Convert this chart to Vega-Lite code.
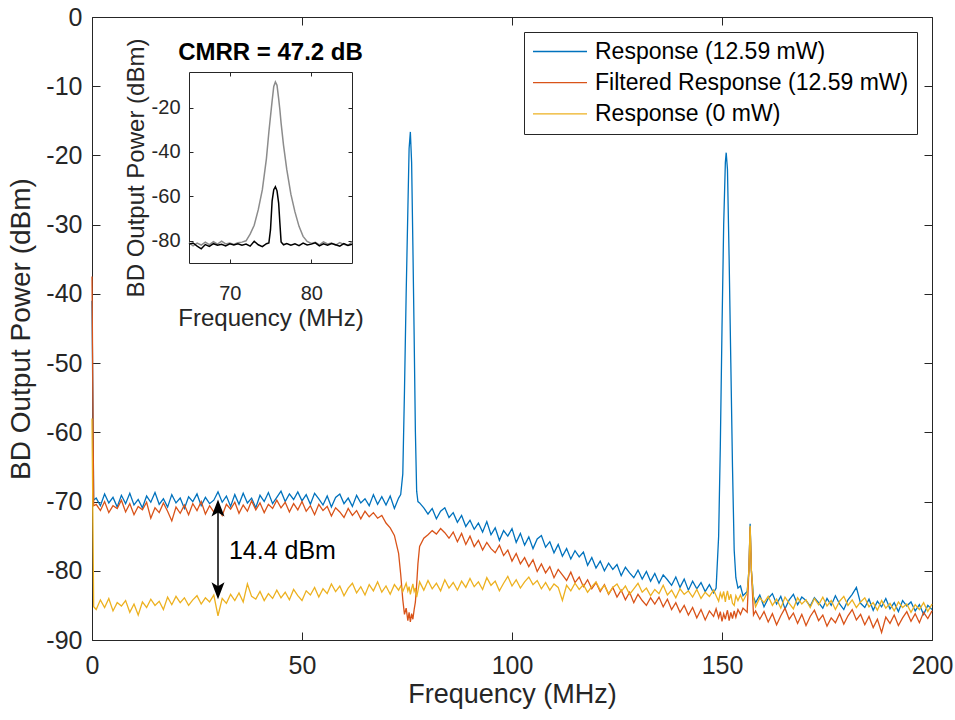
{
"$schema": "https://vega.github.io/schema/vega-lite/v6.json",
"width": 840, "height": 623,
"autosize": {"type": "none"},
"padding": {"left": 92, "top": 17, "right": 23, "bottom": 80},
"background": "white",
"config": {
  "view": {"stroke": null},
  "font": "Liberation Sans",
  "axis": {"labelFont": "Liberation Sans", "titleFont": "Liberation Sans", "domainColor": "#262626", "tickColor": "#262626", "labelColor": "#262626", "titleColor": "#262626", "grid": false, "titleFontWeight": "normal", "domainWidth": 1, "tickWidth": 1, "labelFlush": false, "labelOverlap": false},
  "text": {"font": "Liberation Sans"}
},
"datasets": {
"main": [
{"f":0,"a":-41,"b":-37.5,"c":-58},
{"f":0.4,"a":-69.8,"b":-70.6,"c":-85.2},
{"f":1,"a":-69.5,"b":-70.4,"c":-85.6},
{"f":2,"a":-70.6,"b":-71.3,"c":-84.2},
{"f":3,"a":-68.9,"b":-70.0,"c":-85.3},
{"f":4,"a":-70.2,"b":-71.6,"c":-84.0},
{"f":5,"a":-69.4,"b":-70.6,"c":-85.8},
{"f":6,"a":-70.8,"b":-71.0,"c":-84.6},
{"f":7,"a":-69.1,"b":-69.8,"c":-85.1},
{"f":8,"a":-70.3,"b":-71.5,"c":-84.3},
{"f":9,"a":-68.8,"b":-70.3,"c":-86.0},
{"f":10,"a":-70.5,"b":-71.9,"c":-84.8},
{"f":11,"a":-69.7,"b":-70.7,"c":-86.4},
{"f":12,"a":-70.9,"b":-71.2,"c":-84.5},
{"f":13,"a":-69.2,"b":-70.1,"c":-85.3},
{"f":14,"a":-70.1,"b":-72.4,"c":-84.1},
{"f":15,"a":-68.7,"b":-70.9,"c":-85.0},
{"f":16,"a":-70.4,"b":-71.6,"c":-84.4},
{"f":17,"a":-69.6,"b":-70.2,"c":-85.6},
{"f":18,"a":-70.8,"b":-71.4,"c":-83.8},
{"f":19,"a":-69.0,"b":-72.8,"c":-84.9},
{"f":20,"a":-70.2,"b":-70.8,"c":-83.7},
{"f":21,"a":-69.5,"b":-71.7,"c":-84.6},
{"f":22,"a":-71.0,"b":-70.5,"c":-83.9},
{"f":23,"a":-69.3,"b":-71.9,"c":-85.0},
{"f":24,"a":-70.0,"b":-70.3,"c":-84.2},
{"f":25,"a":-68.9,"b":-71.3,"c":-83.6},
{"f":26,"a":-70.6,"b":-70.0,"c":-84.8},
{"f":27,"a":-69.4,"b":-71.8,"c":-83.9},
{"f":28,"a":-70.3,"b":-70.6,"c":-84.5},
{"f":29,"a":-69.8,"b":-71.5,"c":-83.5},
{"f":30,"a":-68.6,"b":-70.9,"c":-86.5},
{"f":31,"a":-70.1,"b":-72.0,"c":-84.0},
{"f":32,"a":-69.2,"b":-70.4,"c":-84.7},
{"f":33,"a":-70.7,"b":-71.1,"c":-83.4},
{"f":34,"a":-69.0,"b":-70.1,"c":-84.3},
{"f":35,"a":-70.4,"b":-71.7,"c":-83.2},
{"f":36,"a":-68.8,"b":-70.5,"c":-84.5},
{"f":37,"a":-70.2,"b":-71.4,"c":-81.9},
{"f":38,"a":-69.5,"b":-69.9,"c":-83.7},
{"f":39,"a":-70.9,"b":-71.2,"c":-84.1},
{"f":40,"a":-69.1,"b":-70.2,"c":-83.0},
{"f":41,"a":-70.0,"b":-71.6,"c":-84.3},
{"f":42,"a":-68.7,"b":-70.4,"c":-83.3},
{"f":43,"a":-70.3,"b":-71.0,"c":-84.0},
{"f":44,"a":-69.4,"b":-69.8,"c":-82.8},
{"f":45,"a":-68.5,"b":-70.9,"c":-83.9},
{"f":46,"a":-70.0,"b":-70.1,"c":-83.1},
{"f":47,"a":-68.9,"b":-71.5,"c":-84.2},
{"f":48,"a":-69.7,"b":-70.3,"c":-82.7},
{"f":49,"a":-68.6,"b":-71.2,"c":-83.6},
{"f":50,"a":-69.9,"b":-70.0,"c":-84.3},
{"f":51,"a":-69.0,"b":-71.4,"c":-82.9},
{"f":52,"a":-70.4,"b":-70.6,"c":-83.5},
{"f":53,"a":-68.8,"b":-71.9,"c":-82.4},
{"f":54,"a":-69.6,"b":-70.4,"c":-83.8},
{"f":55,"a":-70.5,"b":-71.3,"c":-82.6},
{"f":56,"a":-69.2,"b":-70.7,"c":-83.3},
{"f":57,"a":-70.8,"b":-72.1,"c":-81.9},
{"f":58,"a":-69.4,"b":-70.9,"c":-83.0},
{"f":59,"a":-68.9,"b":-71.5,"c":-82.2},
{"f":60,"a":-70.3,"b":-72.3,"c":-83.6},
{"f":61,"a":-69.5,"b":-71.0,"c":-82.5},
{"f":62,"a":-70.7,"b":-72.0,"c":-81.8},
{"f":63,"a":-69.1,"b":-71.3,"c":-83.2},
{"f":64,"a":-70.2,"b":-72.5,"c":-82.3},
{"f":65,"a":-69.6,"b":-71.4,"c":-83.5},
{"f":66,"a":-70.6,"b":-72.2,"c":-82.0},
{"f":67,"a":-69.0,"b":-71.6,"c":-82.9},
{"f":68,"a":-70.4,"b":-72.4,"c":-81.6},
{"f":69,"a":-69.3,"b":-72.0,"c":-83.1},
{"f":70,"a":-70.5,"b":-73.1,"c":-82.2},
{"f":71,"a":-69.2,"b":-73.8,"c":-83.4},
{"f":72,"a":-71.0,"b":-74.9,"c":-82.0},
{"f":73,"a":-69.5,"b":-77.5,"c":-82.8},
{"f":73.5,"a":-69.0,"b":-80.5,"c":-82.2},
{"f":74.0,"a":-66,"b":-84.2,"c":-83.0},
{"f":74.4,"a":-54,"b":-86.3,"c":-82.4},
{"f":74.8,"a":-40,"b":-85.4,"c":-81.8},
{"f":75.2,"a":-28,"b":-87.2,"c":-82.9},
{"f":75.5,"a":-19,"b":-86.0,"c":-82.3},
{"f":75.8,"a":-16.6,"b":-87.4,"c":-83.4},
{"f":76.1,"a":-21,"b":-86.2,"c":-82.6},
{"f":76.4,"a":-33,"b":-87.0,"c":-81.9},
{"f":76.7,"a":-46,"b":-85.6,"c":-83.0},
{"f":77.0,"a":-60,"b":-84.5,"c":-82.5},
{"f":77.3,"a":-68.5,"b":-82.0,"c":-83.8},
{"f":77.6,"a":-70.0,"b":-79.0,"c":-82.9},
{"f":78,"a":-70.2,"b":-76.5,"c":-81.6},
{"f":79,"a":-70.9,"b":-75.3,"c":-82.8},
{"f":80,"a":-71.8,"b":-74.8,"c":-81.4},
{"f":81,"a":-71.0,"b":-74.2,"c":-82.6},
{"f":82,"a":-72.5,"b":-74.7,"c":-81.8},
{"f":83,"a":-71.4,"b":-73.9,"c":-82.9},
{"f":84,"a":-70.9,"b":-74.5,"c":-81.3},
{"f":85,"a":-72.3,"b":-75.3,"c":-82.5},
{"f":86,"a":-71.6,"b":-74.4,"c":-81.7},
{"f":87,"a":-73.0,"b":-75.8,"c":-82.8},
{"f":88,"a":-72.0,"b":-74.6,"c":-81.5},
{"f":89,"a":-73.6,"b":-76.2,"c":-82.4},
{"f":90,"a":-72.7,"b":-75.0,"c":-81.1},
{"f":91,"a":-74.0,"b":-76.5,"c":-82.3},
{"f":92,"a":-73.1,"b":-75.6,"c":-81.6},
{"f":93,"a":-74.4,"b":-77.0,"c":-82.7},
{"f":94,"a":-72.9,"b":-75.9,"c":-81.0},
{"f":95,"a":-74.8,"b":-76.8,"c":-82.1},
{"f":96,"a":-73.8,"b":-77.4,"c":-81.5},
{"f":97,"a":-75.6,"b":-76.3,"c":-82.9},
{"f":98,"a":-74.2,"b":-77.8,"c":-81.8},
{"f":99,"a":-75.0,"b":-77.0,"c":-80.8},
{"f":100,"a":-73.9,"b":-78.6,"c":-82.2},
{"f":101,"a":-75.9,"b":-77.5,"c":-81.3},
{"f":102,"a":-74.6,"b":-79.0,"c":-82.5},
{"f":103,"a":-76.3,"b":-78.1,"c":-81.6},
{"f":104,"a":-75.1,"b":-79.4,"c":-80.9},
{"f":105,"a":-76.8,"b":-78.4,"c":-82.0},
{"f":106,"a":-75.4,"b":-80.1,"c":-81.4},
{"f":107,"a":-74.9,"b":-79.0,"c":-82.6},
{"f":108,"a":-76.6,"b":-80.3,"c":-81.7},
{"f":109,"a":-75.8,"b":-79.4,"c":-82.8},
{"f":110,"a":-77.4,"b":-81.0,"c":-81.9},
{"f":111,"a":-76.2,"b":-79.8,"c":-82.4},
{"f":112,"a":-77.9,"b":-80.6,"c":-84.3},
{"f":113,"a":-76.8,"b":-81.4,"c":-82.1},
{"f":114,"a":-78.3,"b":-80.2,"c":-82.9},
{"f":115,"a":-77.1,"b":-81.7,"c":-81.8},
{"f":116,"a":-78.0,"b":-80.9,"c":-82.7},
{"f":117,"a":-77.3,"b":-82.3,"c":-82.0},
{"f":118,"a":-79.2,"b":-81.3,"c":-83.1},
{"f":119,"a":-78.1,"b":-82.6,"c":-82.3},
{"f":120,"a":-79.6,"b":-81.7,"c":-81.6},
{"f":121,"a":-78.6,"b":-83.0,"c":-82.8},
{"f":122,"a":-80.0,"b":-82.0,"c":-82.1},
{"f":123,"a":-78.9,"b":-83.4,"c":-83.3},
{"f":124,"a":-79.8,"b":-82.4,"c":-82.4},
{"f":125,"a":-79.1,"b":-83.8,"c":-81.9},
{"f":126,"a":-80.7,"b":-82.8,"c":-83.0},
{"f":127,"a":-79.5,"b":-84.2,"c":-82.2},
{"f":128,"a":-80.3,"b":-83.1,"c":-83.4},
{"f":129,"a":-81.0,"b":-84.6,"c":-82.6},
{"f":130,"a":-79.9,"b":-83.4,"c":-81.8},
{"f":131,"a":-81.2,"b":-84.3,"c":-83.1},
{"f":132,"a":-80.1,"b":-85.0,"c":-82.5},
{"f":133,"a":-81.5,"b":-83.9,"c":-83.6},
{"f":134,"a":-80.4,"b":-84.8,"c":-82.7},
{"f":135,"a":-81.8,"b":-83.8,"c":-83.3},
{"f":136,"a":-80.6,"b":-85.2,"c":-82.1},
{"f":137,"a":-81.3,"b":-84.1,"c":-83.5},
{"f":138,"a":-82.1,"b":-85.6,"c":-82.8},
{"f":139,"a":-80.9,"b":-84.6,"c":-83.9},
{"f":140,"a":-82.4,"b":-86.0,"c":-82.6},
{"f":141,"a":-81.2,"b":-85.0,"c":-83.4},
{"f":142,"a":-82.8,"b":-86.4,"c":-82.9},
{"f":143,"a":-81.5,"b":-85.3,"c":-83.8},
{"f":144,"a":-82.6,"b":-86.8,"c":-82.7},
{"f":145,"a":-81.7,"b":-85.6,"c":-84.0},
{"f":146,"a":-83.0,"b":-87.1,"c":-83.1},
{"f":147,"a":-82.0,"b":-85.8,"c":-83.7},
{"f":148,"a":-83.2,"b":-86.6,"c":-82.8},
{"f":148.6,"a":-82.5,"b":-85.5,"c":-83.6},
{"f":149.2,"a":-75,"b":-86.8,"c":-84.4},
{"f":149.6,"a":-62,"b":-85.9,"c":-83.2},
{"f":150.0,"a":-45,"b":-87.3,"c":-83.9},
{"f":150.4,"a":-30,"b":-86.2,"c":-83.0},
{"f":150.8,"a":-21,"b":-87.0,"c":-84.5},
{"f":151.0,"a":-19.6,"b":-86.4,"c":-83.7},
{"f":151.3,"a":-22,"b":-85.7,"c":-82.9},
{"f":151.7,"a":-35,"b":-87.2,"c":-84.2},
{"f":152.1,"a":-50,"b":-86.0,"c":-83.4},
{"f":152.5,"a":-65,"b":-86.9,"c":-84.7},
{"f":152.9,"a":-77,"b":-85.8,"c":-85.0},
{"f":153.3,"a":-81,"b":-86.7,"c":-83.6},
{"f":153.8,"a":-82.5,"b":-85.6,"c":-84.3},
{"f":154.4,"a":-82.2,"b":-86.3,"c":-83.5},
{"f":155,"a":-83.6,"b":-85.4,"c":-84.4},
{"f":156,"a":-83.0,"b":-86.0,"c":-83.2},
{"f":156.4,"a":-80,"b":-80,"c":-80},
{"f":156.7,"a":-73.2,"b":-73.7,"c":-73.5},
{"f":157.0,"a":-80,"b":-80,"c":-80},
{"f":157.5,"a":-83.8,"b":-86.4,"c":-84.0},
{"f":158,"a":-84.6,"b":-85.8,"c":-85.2},
{"f":159,"a":-83.5,"b":-87.0,"c":-83.9},
{"f":160,"a":-85.2,"b":-85.9,"c":-84.6},
{"f":161,"a":-84.0,"b":-87.4,"c":-83.7},
{"f":162,"a":-83.3,"b":-86.2,"c":-85.0},
{"f":163,"a":-84.8,"b":-87.8,"c":-84.1},
{"f":164,"a":-83.7,"b":-86.5,"c":-85.4},
{"f":165,"a":-85.5,"b":-85.4,"c":-83.8},
{"f":166,"a":-84.2,"b":-87.0,"c":-84.7},
{"f":167,"a":-83.4,"b":-86.1,"c":-85.5},
{"f":168,"a":-84.9,"b":-87.6,"c":-83.9},
{"f":169,"a":-83.8,"b":-86.3,"c":-84.8},
{"f":170,"a":-84.3,"b":-87.9,"c":-84.2},
{"f":171,"a":-85.1,"b":-86.6,"c":-85.3},
{"f":172,"a":-83.9,"b":-85.7,"c":-84.0},
{"f":173,"a":-84.6,"b":-87.2,"c":-84.9},
{"f":174,"a":-85.4,"b":-86.4,"c":-83.8},
{"f":175,"a":-84.0,"b":-88.0,"c":-85.1},
{"f":176,"a":-85.0,"b":-86.8,"c":-84.3},
{"f":177,"a":-83.6,"b":-87.5,"c":-85.6},
{"f":178,"a":-84.8,"b":-86.2,"c":-84.4},
{"f":179,"a":-85.6,"b":-87.7,"c":-83.7},
{"f":180,"a":-84.2,"b":-86.5,"c":-85.0},
{"f":181,"a":-83.4,"b":-85.6,"c":-84.2},
{"f":182,"a":-82.4,"b":-87.1,"c":-85.3},
{"f":183,"a":-84.7,"b":-86.3,"c":-84.5},
{"f":184,"a":-85.3,"b":-87.8,"c":-83.9},
{"f":185,"a":-84.1,"b":-86.6,"c":-85.2},
{"f":186,"a":-85.7,"b":-88.2,"c":-84.6},
{"f":187,"a":-84.4,"b":-87.0,"c":-85.7},
{"f":188,"a":-85.2,"b":-88.9,"c":-84.3},
{"f":189,"a":-84.0,"b":-86.7,"c":-85.4},
{"f":190,"a":-85.5,"b":-87.6,"c":-84.7},
{"f":191,"a":-84.6,"b":-86.4,"c":-85.8},
{"f":192,"a":-85.9,"b":-87.9,"c":-84.5},
{"f":193,"a":-84.3,"b":-86.8,"c":-85.3},
{"f":194,"a":-85.1,"b":-85.9,"c":-84.8},
{"f":195,"a":-84.5,"b":-87.3,"c":-86.0},
{"f":196,"a":-85.8,"b":-86.2,"c":-84.9},
{"f":197,"a":-84.9,"b":-87.5,"c":-85.6},
{"f":198,"a":-86.3,"b":-86.0,"c":-84.6},
{"f":199,"a":-85.0,"b":-86.9,"c":-85.9},
{"f":200,"a":-85.6,"b":-85.8,"c":-84.8}
],
"inset": [
{"f":65,"g":-80.8,"k":-81.5},
{"f":65.5,"g":-82.3,"k":-81.0},
{"f":66,"g":-81.0,"k":-82.4},
{"f":66.5,"g":-81.9,"k":-83.6},
{"f":67,"g":-80.6,"k":-81.7},
{"f":67.5,"g":-81.7,"k":-82.5},
{"f":68,"g":-80.4,"k":-81.3},
{"f":68.5,"g":-81.5,"k":-82.0},
{"f":69,"g":-80.2,"k":-81.6},
{"f":69.5,"g":-81.4,"k":-82.3},
{"f":70,"g":-81.0,"k":-81.4},
{"f":70.5,"g":-81.6,"k":-81.9},
{"f":71,"g":-80.9,"k":-81.3},
{"f":71.5,"g":-80.6,"k":-82.0},
{"f":72,"g":-80.0,"k":-81.5},
{"f":72.5,"g":-77.0,"k":-82.4},
{"f":73,"g":-73.0,"k":-80.2},
{"f":73.5,"g":-66.0,"k":-81.8},
{"f":74,"g":-57.0,"k":-82.6},
{"f":74.5,"g":-43.0,"k":-81.3},
{"f":74.8,"g":-31.0,"k":-81.0},
{"f":75.0,"g":-24.0,"k":-75.0},
{"f":75.2,"g":-17.0,"k":-62.0},
{"f":75.4,"g":-10.5,"k":-57.0},
{"f":75.6,"g":-8.5,"k":-55.7},
{"f":75.8,"g":-10.0,"k":-57.5},
{"f":76.0,"g":-16.0,"k":-63.0},
{"f":76.15,"g":-21.0,"k":-72.0},
{"f":76.3,"g":-27.0,"k":-80.5},
{"f":76.6,"g":-37.0,"k":-81.8},
{"f":77,"g":-48.0,"k":-81.2},
{"f":77.5,"g":-59.0,"k":-82.0},
{"f":78,"g":-67.0,"k":-81.4},
{"f":78.5,"g":-73.5,"k":-82.2},
{"f":79,"g":-78.0,"k":-81.0},
{"f":79.5,"g":-80.3,"k":-81.9},
{"f":80,"g":-81.2,"k":-81.5},
{"f":80.5,"g":-80.7,"k":-80.9},
{"f":81,"g":-81.8,"k":-82.3},
{"f":81.5,"g":-80.5,"k":-81.4},
{"f":82,"g":-81.4,"k":-82.0},
{"f":82.5,"g":-81.0,"k":-81.2},
{"f":83,"g":-82.0,"k":-81.8},
{"f":83.5,"g":-80.8,"k":-82.4},
{"f":84,"g":-81.6,"k":-81.3},
{"f":84.5,"g":-82.1,"k":-82.1},
{"f":85,"g":-80.5,"k":-81.6}
]
},
"layer": [
{
  "data": {"name": "main"},
  "resolve": {"axis": {"x": "independent", "y": "independent"}},
  "layer": [
    {
      "transform": [{"fold": ["a", "b", "c"], "as": ["s", "p"]}],
      "mark": {"type": "line", "strokeWidth": 1.3},
      "encoding": {
        "x": {"field": "f", "type": "quantitative",
              "scale": {"domain": [0, 200], "nice": false, "zero": false},
              "axis": {"orient": "bottom", "values": [0, 50, 100, 150, 200], "tickSize": -8, "labelFontSize": 25, "labelPadding": 21, "title": "Frequency (MHz)", "titleFontSize": 27, "titlePadding": 3}},
        "y": {"field": "p", "type": "quantitative",
              "scale": {"domain": [-90, 0], "nice": false, "zero": false},
              "axis": {"orient": "left", "values": [-90, -80, -70, -60, -50, -40, -30, -20, -10, 0], "labelExpr": "toString(datum.value)", "tickSize": -8, "labelFontSize": 25, "labelPadding": 18, "title": "BD Output Power (dBm)", "titleFontSize": 28, "titlePadding": 10}},
        "color": {"field": "s", "type": "nominal",
                  "scale": {"domain": ["a", "b", "c"], "range": ["#0072BD", "#D95319", "#EDB120"]},
                  "legend": {"title": null, "orient": "top-right", "offset": 15, "fillColor": "white", "strokeColor": "#262626", "padding": 8, "labelFontSize": 23, "labelFont": "Liberation Sans", "labelColor": "black", "symbolType": "stroke", "symbolSize": 2916, "symbolStrokeWidth": 1.3, "labelOffset": 7, "clipHeight": 23, "rowPadding": 7.2, "labelLimit": 500,
                             "labelExpr": "datum.label == 'a' ? 'Response (12.59 mW)' : datum.label == 'b' ? 'Filtered Response (12.59 mW)' : 'Response (0 mW)'"}}
      }
    },
    {
      "data": {"values": [{}]},
      "mark": {"type": "point", "opacity": 0},
      "encoding": {
        "x": {"datum": 100, "type": "quantitative", "scale": {"domain": [0, 200], "nice": false, "zero": false},
              "axis": {"orient": "top", "values": [0, 50, 100, 150, 200], "labels": false, "tickSize": -8, "title": null}},
        "y": {"datum": -50, "type": "quantitative", "scale": {"domain": [-90, 0], "nice": false, "zero": false},
              "axis": {"orient": "right", "values": [-90, -80, -70, -60, -50, -40, -30, -20, -10, 0], "labels": false, "tickSize": -8, "title": null}}
      }
    },
    {
      "data": {"values": [{}]},
      "mark": {"type": "rule", "color": "black", "strokeWidth": 1.5},
      "encoding": {
        "x": {"datum": 30, "type": "quantitative", "scale": {"domain": [0, 200], "nice": false, "zero": false}, "axis": null},
        "y": {"datum": -70.5, "type": "quantitative", "scale": {"domain": [-90, 0], "nice": false, "zero": false}, "axis": null},
        "y2": {"datum": -83.3}
      }
    },
    {
      "data": {"values": [{}]},
      "mark": {"type": "point", "filled": true, "color": "black", "opacity": 1, "size": 400, "shape": "M0,-1L0.65,0.7L0,0.3L-0.65,0.7Z", "yOffset": 10},
      "encoding": {
        "x": {"datum": 30, "type": "quantitative", "scale": {"domain": [0, 200], "nice": false, "zero": false}, "axis": null},
        "y": {"datum": -69.7, "type": "quantitative", "scale": {"domain": [-90, 0], "nice": false, "zero": false}, "axis": null}
      }
    },
    {
      "data": {"values": [{}]},
      "mark": {"type": "point", "filled": true, "color": "black", "opacity": 1, "size": 400, "shape": "M0,1L0.65,-0.7L0,-0.3L-0.65,-0.7Z", "yOffset": -10},
      "encoding": {
        "x": {"datum": 30, "type": "quantitative", "scale": {"domain": [0, 200], "nice": false, "zero": false}, "axis": null},
        "y": {"datum": -84.1, "type": "quantitative", "scale": {"domain": [-90, 0], "nice": false, "zero": false}, "axis": null}
      }
    },
    {
      "data": {"values": [{"t": "14.4 dBm"}]},
      "mark": {"type": "text", "align": "left", "baseline": "middle", "fontSize": 25, "color": "black"},
      "encoding": {
        "x": {"datum": 32.6, "type": "quantitative", "scale": {"domain": [0, 200], "nice": false, "zero": false}, "axis": null},
        "y": {"datum": -77.2, "type": "quantitative", "scale": {"domain": [-90, 0], "nice": false, "zero": false}, "axis": null},
        "text": {"field": "t"}
      }
    }
  ]
},
{
  "data": {"name": "inset"},
  "resolve": {"axis": {"x": "independent", "y": "independent"}},
  "layer": [
    {
      "transform": [{"fold": ["g", "k"], "as": ["s2", "p2"]}],
      "mark": {"type": "line", "strokeWidth": 1.5},
      "encoding": {
        "x": {"field": "f", "type": "quantitative",
              "scale": {"domain": [65, 85], "range": [97, 260], "nice": false, "zero": false},
              "axis": {"orient": "bottom", "offset": -377, "values": [70, 80], "tickSize": -4, "labelFontSize": 20, "labelPadding": 24, "title": "Frequency (MHz)", "titleFontSize": 24, "titlePadding": 3}},
        "y": {"field": "p2", "type": "quantitative",
              "scale": {"domain": [-90, -4], "range": [246, 55], "nice": false, "zero": false},
              "axis": {"orient": "left", "offset": -97, "values": [-80, -60, -40, -20], "labelExpr": "toString(datum.value)", "tickSize": -4, "labelFontSize": 20, "labelPadding": 13, "title": "BD Output Power (dBm)", "titleFontSize": 24, "titlePadding": 3}},
        "color": {"field": "s2", "type": "nominal",
                  "scale": {"domain": ["g", "k"], "range": ["#8c8c8c", "#000000"]}, "legend": null}
      }
    },
    {
      "data": {"values": [{}]},
      "mark": {"type": "point", "opacity": 0},
      "encoding": {
        "x": {"datum": 75, "type": "quantitative", "scale": {"domain": [65, 85], "range": [97, 260], "nice": false, "zero": false},
              "axis": {"orient": "top", "offset": -55, "values": [70, 80], "labels": false, "tickSize": -4, "title": null}},
        "y": {"datum": -50, "type": "quantitative", "scale": {"domain": [-90, -4], "range": [246, 55], "nice": false, "zero": false},
              "axis": {"orient": "right", "offset": -580, "values": [-80, -60, -40, -20], "labels": false, "tickSize": -4, "title": null}}
      }
    },
    {
      "data": {"values": [{"t": "CMRR = 47.2 dB"}]},
      "mark": {"type": "text", "align": "center", "baseline": "alphabetic", "fontSize": 24, "fontWeight": "bold", "color": "black", "dy": -12},
      "encoding": {
        "x": {"datum": 75, "type": "quantitative", "scale": {"domain": [65, 85], "range": [97, 260], "nice": false, "zero": false}, "axis": null},
        "y": {"datum": -4, "type": "quantitative", "scale": {"domain": [-90, -4], "range": [246, 55], "nice": false, "zero": false}, "axis": null},
        "text": {"field": "t"}
      }
    }
  ]
}
],
"resolve": {"scale": {"x": "independent", "y": "independent", "color": "independent"}}
}
